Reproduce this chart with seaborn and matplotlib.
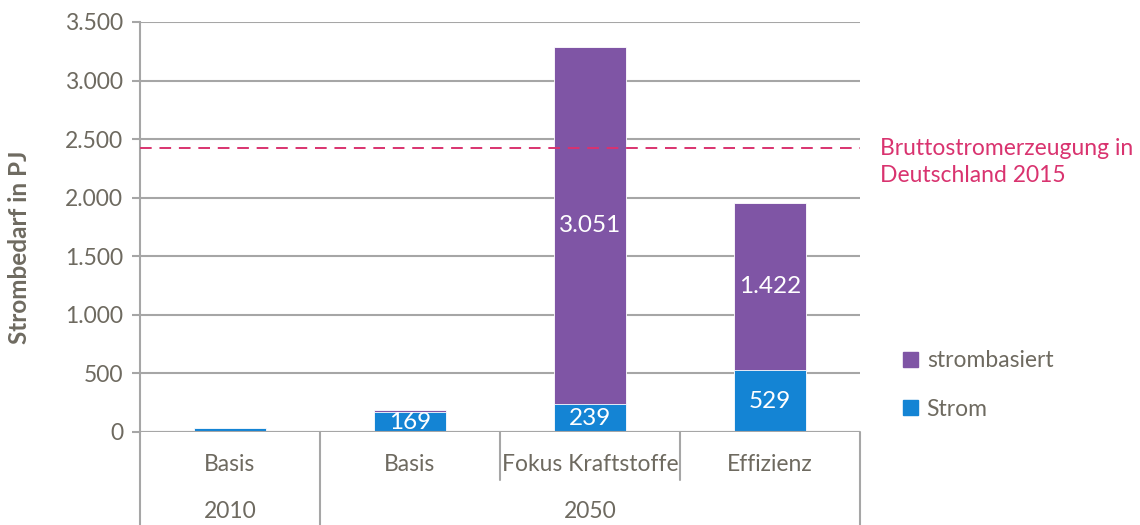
import seaborn as sns
import matplotlib.pyplot as plt
from matplotlib.patches import Patch

# Daten
szenarien = ["Basis", "Basis", "Fokus Kraftstoffe", "Effizienz"]
bar_ids = ["Basis 2010", "Basis 2050", "Fokus Kraftstoffe 2050", "Effizienz 2050"]
jahre = ["2010", "2050"]
strom = [33, 169, 239, 529]
strombasiert = [0, 19, 3051, 1422]
strom_labels = ["", "169", "239", "529"]
strombasiert_labels = ["", "", "3.051", "1.422"]
brutto_2015 = 2425
y_ticks = [0, 500, 1000, 1500, 2000, 2500, 3000, 3500]

lila = "#7F55A5"
blau = "#1484D4"
rot = "#D9336F"
grau = "#A6A6A6"
text_grau = "#6E6A60"
fs = 16.5

sns.set_theme(style="white")
plt.rcParams["font.family"] = ["Lato", "DejaVu Sans"]

fig = plt.figure(figsize=(11.4, 5.25), dpi=100)
ax = fig.add_axes([140 / 1140, 1 - 432 / 525, 720 / 1140, 410 / 525])

gesamt = [a + b for a, b in zip(strom, strombasiert)]

# gestapelte Balken: erst Gesamt (lila), dann Strom (blau) darüber
sns.barplot(x=bar_ids, y=gesamt, order=bar_ids, color=lila, saturation=1,
            width=0.4, edgecolor="white", linewidth=0.6, ax=ax)
sns.barplot(x=bar_ids, y=strom, order=bar_ids, color=blau, saturation=1,
            width=0.4, edgecolor="white", linewidth=0.6, ax=ax)

# Werte in den Balken
for i in range(len(bar_ids)):
    if strom_labels[i]:
        ax.text(i, strom[i] / 2, strom_labels[i], ha="center", va="center",
                color="white", fontsize=17.5)
    if strombasiert_labels[i]:
        ax.text(i, strom[i] + strombasiert[i] / 2, strombasiert_labels[i],
                ha="center", va="center", color="white", fontsize=17.5)

# Referenzlinie
ax.axhline(brutto_2015, color=rot, linestyle=(0, (6, 4)), linewidth=1.4, zorder=3)
fig.text(880 / 1140, 1 - 162 / 525, "Bruttostromerzeugung in\nDeutschland 2015",
         color=rot, fontsize=fs, ha="left", va="center", linespacing=1.3)

ax.set_xlim(-0.5, 3.5)
ax.set_ylim(0, 3500)
ax.set_yticks(y_ticks)
ax.set_yticklabels([f"{v:,}".replace(",", ".") for v in y_ticks])
ax.yaxis.grid(True, color=grau, linewidth=1.5)
ax.set_axisbelow(True)
ax.tick_params(axis="y", length=6, width=1.5, color=grau, labelcolor=text_grau,
               labelsize=fs, pad=6, left=True)
ax.set_xticks([])
ax.set_xlabel("")
ax.set_ylabel("Strombedarf in PJ", color=text_grau, fontsize=17.5,
              fontweight="bold")
ax.yaxis.set_label_coords(-0.152, 0.45)

for s in ["top", "right", "bottom"]:
    ax.spines[s].set_visible(False)
ax.spines["left"].set_color(grau)
ax.spines["left"].set_linewidth(1.5)
ax.axhline(0, color=grau, linewidth=1.5, zorder=4)

# Kategorien unter der Achse
trans = ax.get_xaxis_transform()
for i, name in enumerate(szenarien):
    ax.text(i, -0.08, name, transform=trans, ha="center", va="center",
            color=text_grau, fontsize=fs)
ax.text(0, -0.195, jahre[0], transform=trans, ha="center", va="center",
        color=text_grau, fontsize=fs)
ax.text(2, -0.195, jahre[1], transform=trans, ha="center", va="center",
        color=text_grau, fontsize=fs)

for x, tief in [(-0.5, -0.23), (0.5, -0.23), (1.5, -0.117), (2.5, -0.117), (3.5, -0.23)]:
    ax.plot([x, x], [0, tief], transform=trans, color=grau, linewidth=1.5,
            clip_on=False)

# Legende
handles = [Patch(color=lila, label="strombasiert"), Patch(color=blau, label="Strom")]
leg = fig.legend(handles=handles, loc="center left",
                 bbox_to_anchor=(882 / 1140, 1 - 385 / 525), frameon=False,
                 fontsize=fs, handlelength=0.65, handleheight=0.65,
                 handletextpad=0.4, labelspacing=1.2)
for t in leg.get_texts():
    t.set_color(text_grau)

fig.savefig("out.png", dpi=100)
